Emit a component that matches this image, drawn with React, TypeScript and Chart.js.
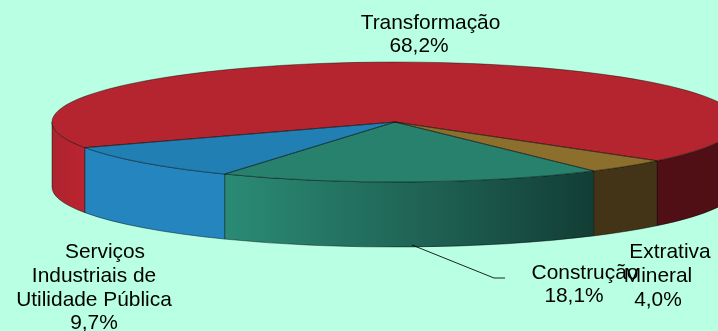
import React, { useEffect, useRef } from "react";
import { Chart, registerables } from "chart.js";

Chart.register(...registerables);

const categories = ["Transformação", "Extrativa Mineral", "Construção", "Serviços Industriais de Utilidade Pública"];
const values = [68.2, 4.0, 18.1, 9.7];
const topColors = ["#B5252F", "#8C6E2D", "#27816D", "#217FB3"];

const BG = "#B8FFE3";
const CX = 395, CY = 122, RX = 343, RY = 60, DEPTH = 65;

// wall shading by slice: [canvas x, colour]
const wallStops: [number, string][][] = [
  [[52, "#AC2430"], [70, "#B5242F"], [85, "#BC2430"], [656, "#BC2430"], [657, "#4F0F14"], [718, "#4F0F14"]],
  [[594, "#433317"], [657, "#433317"]],
  [[224, "#2A8B75"], [300, "#267C69"], [440, "#1E5F52"], [594, "#123D35"]],
  [[85, "#2485BF"], [224, "#2485BF"]],
];

type Lbl = [string, number, number];
const labelLines: Lbl[] = [
  ["Transformação", 430.5, 29],
  ["68,2%", 419, 52],
  ["Construção", 585, 279],
  ["18,1%", 574, 302],
  ["Extrativa", 670, 258],
  ["Mineral", 658, 282],
  ["4,0%", 658, 306],
  ["Serviços", 105, 258],
  ["Industriais de", 94, 282],
  ["Utilidade Pública", 94, 306],
  ["9,7%", 94, 329],
];

const pie3d = {
  id: "pie3d",
  beforeDraw(chart: any) {
    const c = chart.ctx;
    c.save();
    c.fillStyle = BG;
    c.fillRect(0, 0, chart.width, chart.height);
    c.restore();
  },
  beforeDatasetsDraw(chart: any) {
    const c = chart.ctx;
    const arcs = chart.getDatasetMeta(0).data;
    // side walls
    arcs.forEach((a: any, i: number) => {
      const TAU = Math.PI * 2;
      const s = a.startAngle, e = a.endAngle;
      const ranges: [number, number][] = [];
      for (let k = -1; k <= 2; k++) {
        const lo = Math.max(s, k * TAU), hi = Math.min(e, k * TAU + Math.PI);
        if (hi > lo) ranges.push([lo, hi]);
      }
      const x0 = wallStops[i][0][0], x1 = wallStops[i][wallStops[i].length - 1][0];
      const g = c.createLinearGradient(x0, 0, x1, 0);
      wallStops[i].forEach(([x, col]) => g.addColorStop((x - x0) / (x1 - x0), col));
      ranges.forEach(([lo, hi]) => {
        c.beginPath();
        c.ellipse(CX, CY, RX, RY, 0, lo, hi, false);
        c.ellipse(CX, CY + DEPTH, RX, RY, 0, hi, lo, true);
        c.closePath();
        c.fillStyle = g;
        c.fill();
        c.strokeStyle = "rgba(0,0,0,0.55)";
        c.lineWidth = 0.8;
        c.stroke();
      });
    });
    // squash the library's circular pie onto the top face
    const a0 = arcs[0];
    const R = a0.outerRadius;
    c.save();
    c.translate(CX, CY);
    c.scale(RX / R, RY / R);
    c.translate(-a0.x, -a0.y);
  },
  afterDatasetsDraw(chart: any) {
    const c = chart.ctx;
    c.restore();
    const arcs = chart.getDatasetMeta(0).data;
    arcs.forEach((a: any) => {
      c.beginPath();
      c.moveTo(CX, CY);
      c.ellipse(CX, CY, RX, RY, 0, a.startAngle, a.endAngle, false);
      c.closePath();
      c.strokeStyle = "rgba(0,0,0,0.5)";
      c.lineWidth = 0.8;
      c.stroke();
    });
    // leader line
    c.beginPath();
    c.moveTo(412, 245);
    c.lineTo(494, 278);
    c.lineTo(505, 278);
    c.strokeStyle = "rgba(0,0,0,0.85)";
    c.lineWidth = 1;
    c.stroke();
    // labels
    c.fillStyle = "#000";
    c.font = '20.9px "Liberation Sans", Arial, sans-serif';
    c.textAlign = "center";
    c.textBaseline = "alphabetic";
    labelLines.forEach(([t, x, y]) => c.fillText(t, x, y));
  },
};

export default function App() {
  const ref = useRef<HTMLCanvasElement>(null);
  useEffect(() => {
    document.body.style.background = BG;
    const chart = new Chart(ref.current as HTMLCanvasElement, {
      type: "pie",
      data: {
        labels: categories,
        datasets: [{ data: values, backgroundColor: topColors, borderWidth: 0, clip: false } as any],
      },
      options: {
        responsive: false,
        animation: false,
        rotation: 244.7,
        plugins: { legend: { display: false }, tooltip: { enabled: false } },
      },
      plugins: [pie3d],
    } as any);
    return () => chart.destroy();
  }, []);
  return (
    <canvas
      ref={ref}
      width={718}
      height={331}
      style={{ position: "absolute", left: 0, top: 0, width: 718, height: 331, display: "block", filter: "blur(0.4px)" }}
    />
  );
}
